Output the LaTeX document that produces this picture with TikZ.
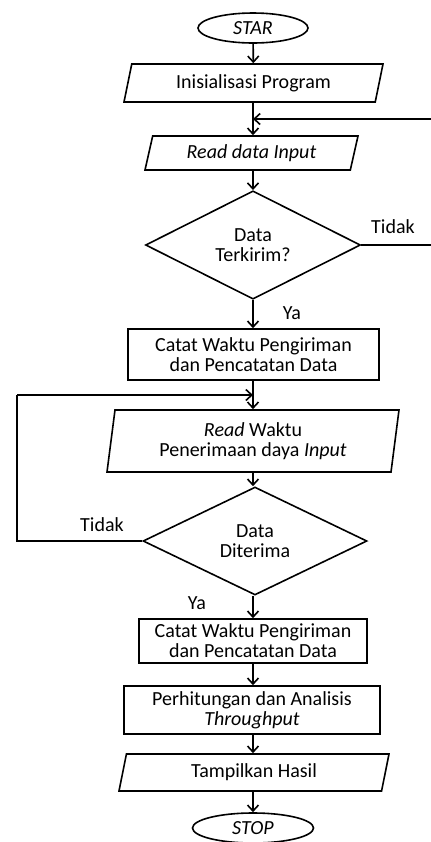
\documentclass[tikz,border=0pt]{standalone}
\usepackage{fontspec}
\setmainfont{Carlito}
\usepackage{tikz}
\usetikzlibrary{positioning, arrows.meta, shapes.geometric}

\begin{document}
\begin{tikzpicture}[
  x=0.5pt, y=-0.5pt,
  font=\fontsize{10}{10}\selectfont,
  box/.style={draw, line width=0.8pt, align=center, inner sep=1pt},
  proc/.style={box, rectangle},
  io/.style={box, trapezium, trapezium left angle=70, trapezium right angle=110,
    trapezium stretches body},
  decision/.style={box, diamond, inner sep=0pt},
  terminal/.style={box, ellipse, inner sep=0pt, font=\fontsize{10}{10}\selectfont\itshape},
  flow/.style={-{Straight Barb[length=3pt, width=5.5pt]}, line width=0.8pt},
  loop/.style={line width=0.8pt}
]
\useasboundingbox (0,0) rectangle (431,842);
% --- bagian atas ---
\node[terminal, minimum width=55pt, minimum height=15pt] (start) at (253,28) {STAR};
\node[io, minimum width=129.5pt, minimum height=19pt] (init) at (253.5,83) {Inisialisasi Program};
\node[io, minimum width=106.5pt, minimum height=17pt] (read) at (251.5,153) {\textit{Read data Input}};
\node[decision, minimum width=107.5pt, minimum height=53pt] (kirim) at (253,245) {Data\\Terkirim?};
\node[proc, minimum width=125.5pt, minimum height=25.5pt] (catat1) at (253.5,354.5) {Catat Waktu Pengiriman\\dan Pencatatan Data};
\draw[flow] (start) -- (init);
\draw[flow] (init.south -| start) -- (read.north -| start);
\draw[flow] (read.south -| start) -- (kirim.north);
\draw[flow] (kirim.south) -- (catat1.north -| kirim.south);
\node (ya1) at (292,313) {Ya};
\node (tidak1) at (393,227) {Tidak};
% --- kembali ke Read data Input ---
\coordinate (r1) at (434,245);
\coordinate (r2) at (434,119);
\coordinate (r3) at (253,119);
\draw[loop] (kirim.east) -- (r1) -- (r2);
\draw[flow] (r2) -- (r3);
% --- bagian tengah ---
\node[io, trapezium left angle=79, trapezium right angle=101, minimum width=146pt, minimum height=31pt] (read2) at (253,441) {\textit{Read} Waktu\\Penerimaan daya \textit{Input}};
\node[decision, minimum width=112pt, minimum height=54pt] (terima) at (255,541) {Data\\Diterima};
\draw[flow] (catat1.south -| start) -- (read2.north -| start);
\draw[flow] (read2.south -| start) -- (terima.north -| start);
\node (tidak2) at (102,525) {Tidak};
\node (ya2) at (197,603) {Ya};
\coordinate (l1) at (17,541);
\coordinate (l2) at (17,395);
\coordinate (l3) at (253,395);
\draw[loop] (terima.west) -- (l1) -- (l2);
\draw[flow] (l2) -- (l3);
% --- bagian bawah ---
\node[proc, minimum width=114pt, minimum height=22pt] (catat2) at (253,641) {Catat Waktu Pengiriman\\dan Pencatatan Data};
\node[proc, minimum width=128pt, minimum height=24pt] (hitung) at (252,710) {Perhitungan dan Analisis\\\textit{Throughput}};
\node[io, trapezium left angle=70.6, trapezium right angle=109.4, minimum width=135pt, minimum height=18.5pt] (hasil) at (254,772.5) {Tampilkan Hasil};
\node[terminal, minimum width=60.5pt, minimum height=15pt] (stop) at (253,828) {STOP};
\draw[flow] (terima.south -| start) -- (catat2.north -| start);
\draw[flow] (catat2.south -| start) -- (hitung.north -| start);
\draw[flow] (hitung.south -| start) -- (hasil.north -| start);
\draw[flow] (hasil.south -| start) -- (stop.north -| start);
\end{tikzpicture}
\end{document}
